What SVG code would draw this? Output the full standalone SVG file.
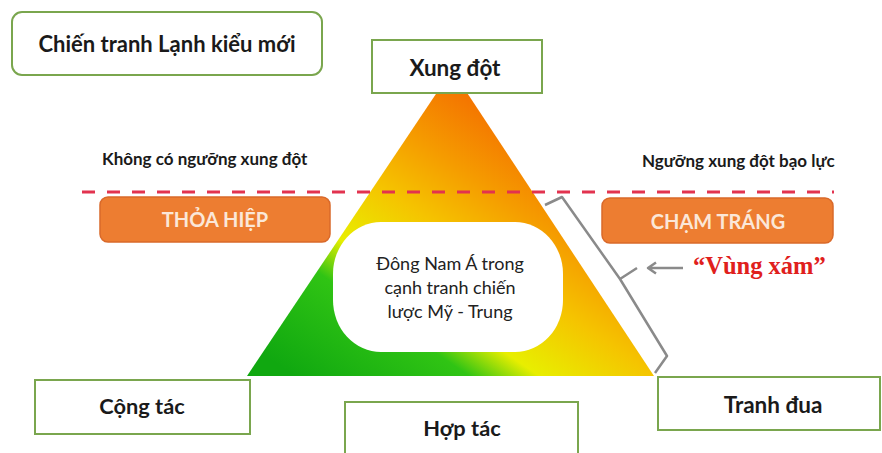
<svg xmlns="http://www.w3.org/2000/svg" width="882" height="453" viewBox="0 0 882 453">
<defs>
<linearGradient id="tri" gradientUnits="userSpaceOnUse" x1="300" y1="380" x2="486.5" y2="107.75">
<stop offset="0" stop-color="#10a810"/>
<stop offset="0.3" stop-color="#30c414"/>
<stop offset="0.42" stop-color="#e8ee00"/>
<stop offset="0.62" stop-color="#f5c400"/>
<stop offset="0.8" stop-color="#f59c00"/>
<stop offset="1" stop-color="#f47400"/>
</linearGradient>
<style>
.box{fill:#fff;stroke:#7aa64e;stroke-width:2}
.lbl{font-family:Lato,"Liberation Sans","Noto Sans",sans-serif;font-weight:bold;fill:#1a1a1a;text-anchor:middle}
.ob{fill:#ed7d31;stroke:#d9692a;stroke-width:1.5}
.ot{font-family:Lato,"Liberation Sans","Noto Sans",sans-serif;font-weight:bold;fill:#fbe7d8;text-anchor:middle;font-size:20px}
.note{font-family:Lato,"Liberation Sans","Noto Sans",sans-serif;font-weight:bold;fill:#1a1a1a;font-size:17px}
.mid{font-family:Lato,"Liberation Sans","Noto Sans",sans-serif;fill:#222;text-anchor:middle;font-size:18px}
.gray{fill:none;stroke:#8a8a8a;stroke-width:2.5;stroke-linejoin:round}
</style>
</defs>
<rect width="882" height="453" fill="#fff"/>

<g id="pyramid">
<polygon points="452,70 654,376 247,376" fill="url(#tri)"/>
<rect x="333" y="222" width="230" height="130" rx="48" ry="52" fill="#fff"/>
<text class="mid" x="450" y="270">Đông Nam Á trong</text>
<text class="mid" x="450" y="294">cạnh tranh chiến</text>
<text class="mid" x="450" y="318">lược Mỹ - Trung</text>
</g>

<g id="title">
<rect class="box" x="12" y="12" width="310" height="63" rx="10"/>
<text class="lbl" x="167" y="52" font-size="22">Chiến tranh Lạnh kiểu mới</text>
</g>

<g id="xung-dot">
<rect class="box" x="372" y="40" width="170" height="53"/>
<text class="lbl" x="455" y="76" font-size="22.5">Xung đột</text>
</g>

<g id="threshold">
<line x1="82" y1="192" x2="834" y2="192" stroke="#e2334f" stroke-width="3" stroke-dasharray="13 12"/>
<text class="note" x="102" y="165">Không có ngưỡng xung đột</text>
<text class="note" x="642" y="167">Ngưỡng xung đột bạo lực</text>
</g>

<g id="thoa-hiep">
<rect class="ob" x="100" y="197" width="230" height="45" rx="8"/>
<text class="ot" x="215" y="227">THỎA HIỆP</text>
</g>

<g id="cham-trang">
<rect class="ob" x="602" y="198" width="231" height="45" rx="8"/>
<text class="ot" x="718" y="229">CHẠM TRÁNG</text>
</g>

<g id="connectors">
<path class="gray" d="M545,205 L562,197 L620,279 L637,268 M620,279 L667,356 L655,373"/>
<path class="gray" d="M683,268 L648,268 M656,262.5 L648,268 L656,273.5"/>
</g>

<g id="vung-xam">
<text x="693" y="274" font-family="'Liberation Serif',serif" font-weight="bold" font-size="24.5" fill="#e0201c">“Vùng xám”</text>
</g>

<g id="cong-tac">
<rect class="box" x="35" y="380" width="215" height="54"/>
<text class="lbl" x="142" y="414" font-size="21.8">Cộng tác</text>
</g>

<g id="hop-tac">
<rect class="box" x="345" y="402" width="233" height="60"/>
<text class="lbl" x="462" y="436" font-size="21.8">Hợp tác</text>
</g>

<g id="tranh-dua">
<rect class="box" x="658" y="377" width="222" height="53"/>
<text class="lbl" x="773" y="413" font-size="22.5">Tranh đua</text>
</g>
</svg>
